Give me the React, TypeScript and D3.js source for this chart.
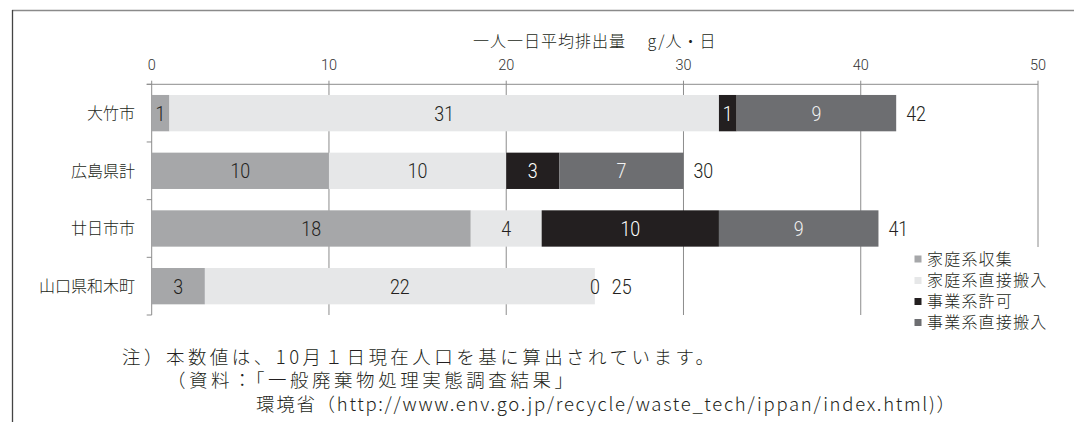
import React, { useEffect, useRef } from "react";
import * as d3 from "d3";

// 一人一日平均排出量 (g/人・日)
const categories = ["大竹市", "広島県計", "廿日市市", "山口県和木町"];
const seriesNames = ["家庭系収集", "家庭系直接搬入", "事業系許可", "事業系直接搬入"];
const householdCollection = [1, 10, 18, 3];
const householdDirect = [31, 10, 4, 22];
const businessPermit = [1, 3, 10, 0];
const businessDirect = [9, 7, 9, 0];
const xTicks = [0, 10, 20, 30, 40, 50];
const seriesColors = ["#a6a7a9", "#e6e7e8", "#231f20", "#6d6e71"];
const labelColors = ["#231f20", "#231f20", "#ffffff", "#f2f2f2"];

const axisTitle = "一人一日平均排出量　 g/人・日";
const notes = [
  "注）本数値は、10月１日現在人口を基に算出されています。",
  "（資料：「一般廃棄物処理実態調査結果」",
  "環境省（http://www.env.go.jp/recycle/waste_tech/ippan/index.html)）",
];

const JP = "'Noto Sans CJK JP', 'Noto Sans', sans-serif";
const NUM = "Roboto, 'Liberation Sans', Arial, sans-serif";
const INK = "#231f20";
const GRID = "#8c8c8c";

export default function App() {
  const svgRef = useRef<SVGSVGElement>(null);

  useEffect(() => {
    const svg = d3.select(svgRef.current);
    svg.selectAll("*").remove();

    const rows = categories.map((name, i) => ({
      name,
      values: [householdCollection[i], householdDirect[i], businessPermit[i], businessDirect[i]],
    }));

    const x = d3.scaleLinear().domain([0, 50]).range([151.7, 1038]);
    const y = d3
      .scaleBand()
      .domain(categories)
      .range([84.3, 315])
      .paddingInner(0.37)
      .paddingOuter(0.185);
    const halfGap = (y.step() * 0.37) / 2;
    const top = 84.3;
    const bottom = 315;

    // frame
    svg.append("line").attr("x1", 12).attr("x2", 1074).attr("y1", 10.5).attr("y2", 10.5)
      .attr("stroke", "#8a8a8a").attr("stroke-width", 1.5);
    svg.append("line").attr("x1", 12.5).attr("x2", 12.5).attr("y1", 10).attr("y2", 422)
      .attr("stroke", "#444").attr("stroke-width", 1.3);

    // grid lines
    svg.append("g").selectAll("line").data(xTicks).join("line")
      .attr("x1", d => x(d)).attr("x2", d => x(d))
      .attr("y1", top - 3.6).attr("y2", bottom)
      .attr("stroke", GRID).attr("stroke-width", 1);

    // top axis line
    svg.append("line").attr("x1", x(0) - 5).attr("x2", x(50)).attr("y1", top).attr("y2", top)
      .attr("stroke", GRID).attr("stroke-width", 1);

    // left category ticks
    const boundaries = categories.map(c => (y(c) as number) - halfGap).concat([bottom]);
    svg.append("g").selectAll("line").data(boundaries).join("line")
      .attr("x1", x(0) - 5).attr("x2", x(0))
      .attr("y1", d => d).attr("y2", d => d)
      .attr("stroke", GRID).attr("stroke-width", 1);

    // tick labels
    svg.append("g").selectAll("text").data(xTicks).join("text")
      .attr("x", d => x(d)).attr("y", 65).attr("dy", "0.36em")
      .attr("text-anchor", "middle")
      .attr("font-family", NUM).attr("font-weight", 300).attr("font-size", 14.5).attr("fill", "#333")
      .text(d => d);

    // axis title
    svg.append("text")
      .attr("x", (x(0) + x(50)) / 2).attr("y", 41.7).attr("dy", "0.36em")
      .attr("text-anchor", "middle")
      .attr("font-family", JP).attr("font-weight", 300).attr("font-size", 16).attr("letter-spacing", 1)
      .attr("fill", INK)
      .text(axisTitle);

    // bars
    rows.forEach(row => {
      const yy = y(row.name) as number;
      const bw = y.bandwidth();
      let acc = 0;
      const g = svg.append("g");
      row.values.forEach((v, si) => {
        const x0 = acc;
        acc += v;
        g.append("rect")
          .attr("x", x(x0)).attr("y", yy)
          .attr("width", x(acc) - x(x0)).attr("height", bw)
          .attr("fill", seriesColors[si]);
      });
      acc = 0;
      row.values.forEach((v, si) => {
        const cx = x(acc + v / 2);
        acc += v;
        if (v === 0 && si > 0 && row.values[si - 1] === 0) return;
        g.append("text")
          .attr("transform", `translate(${cx},${yy + bw / 2}) scale(0.87,1)`)
          .attr("dy", "0.36em").attr("text-anchor", "middle")
          .attr("font-family", NUM).attr("font-weight", 300).attr("font-size", 20.5)
          .attr("fill", v === 0 ? INK : labelColors[si])
          .text(Math.round(v));
      });
      const total = d3.sum(row.values);
      const endsWithZero = row.values[row.values.length - 1] === 0;
      g.append("text")
        .attr("transform", `translate(${x(total) + 10 + (endsWithZero ? 7 : 0)},${yy + bw / 2}) scale(0.87,1)`)
        .attr("dy", "0.36em")
        .attr("font-family", NUM).attr("font-weight", 300).attr("font-size", 20.5).attr("fill", INK)
        .text(Math.round(total));

      svg.append("text")
        .attr("x", 135).attr("y", yy + bw / 2).attr("dy", "0.36em")
        .attr("text-anchor", "end")
        .attr("font-family", JP).attr("font-weight", 300).attr("font-size", 16).attr("fill", INK)
        .text(row.name);
    });

    // legend
    const legend = svg.append("g");
    legend.append("rect").attr("x", 905).attr("y", 247).attr("width", 152).attr("height", 88)
      .attr("fill", "#fff");
    const legendY = [259, 280.5, 301.5, 322.5];
    seriesNames.forEach((name, i) => {
      legend.append("rect").attr("x", 914.5).attr("y", legendY[i] - 3.5)
        .attr("width", 7).attr("height", 7).attr("fill", seriesColors[i]);
      legend.append("text").attr("x", 927).attr("y", legendY[i]).attr("dy", "0.36em")
        .attr("font-family", JP).attr("font-weight", 300).attr("font-size", 16).attr("letter-spacing", 1.2)
        .attr("fill", INK).text(name);
    });

    // notes
    const noteX = [122, 167, 256];
    const noteY = [357, 380.5, 404];
    const noteLen = [592, 406, 699];
    svg.append("g").selectAll("text").data(notes).join("text")
      .attr("x", (d, i) => noteX[i]).attr("y", (d, i) => noteY[i]).attr("dy", "0.36em")
      .attr("textLength", (d, i) => noteLen[i]).attr("lengthAdjust", "spacing")
      .attr("font-family", JP).attr("font-weight", 300).attr("font-size", 18.5).attr("fill", INK)
      .text(d => d);
  }, []);

  return (
    <div>
      <style>{`body{margin:0}`}</style>
      <svg ref={svgRef} width={1074} height={422} style={{ display: "block", background: "#fff" }} />
    </div>
  );
}
